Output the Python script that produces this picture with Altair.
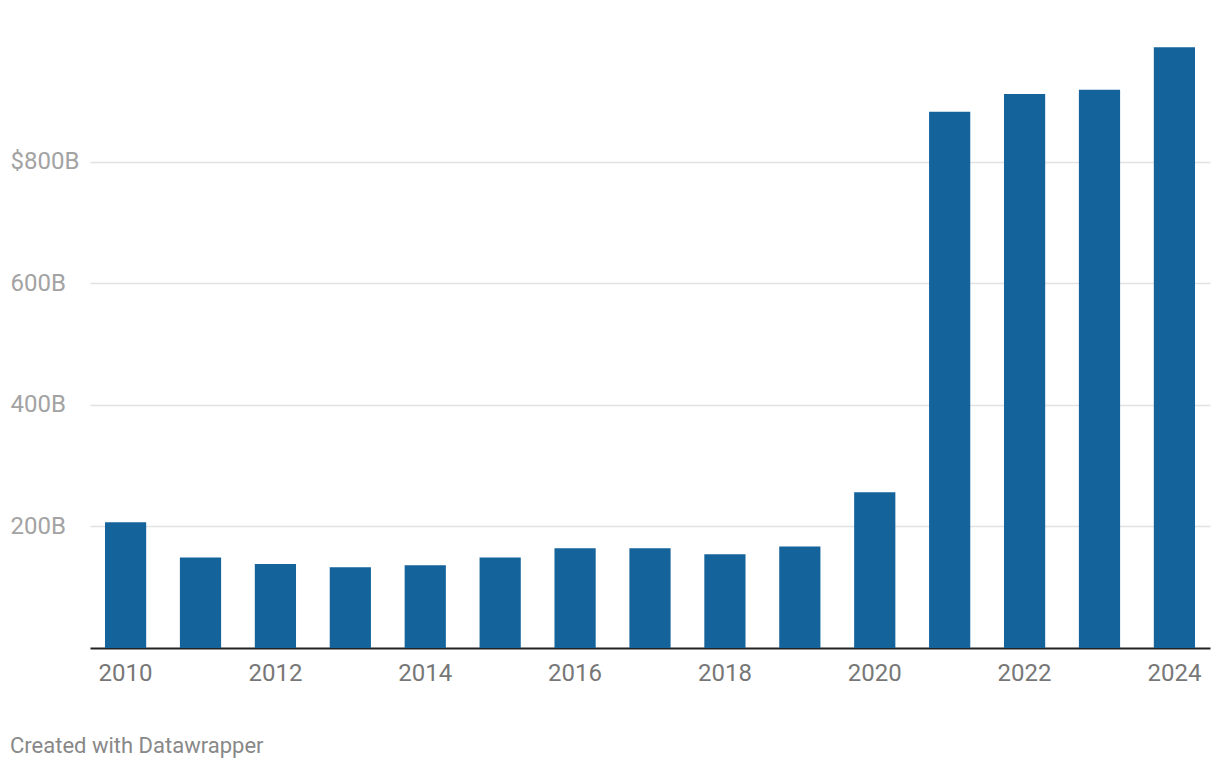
import altair as alt
import pandas as pd

years = list(range(2010, 2025))
values = [207, 149, 138, 133, 136, 149, 164, 164, 154, 167, 256, 882, 911, 918, 988]
y_ticks = [200, 400, 600, 800]
x_ticks = [2010, 2012, 2014, 2016, 2018, 2020, 2022, 2024]
footer = "Created with Datawrapper"

df = pd.DataFrame({"year": years, "value": values})

bars = alt.Chart(df).mark_bar(color="#15639b").encode(
    x=alt.X("year:O",
            scale=alt.Scale(paddingInner=0.45, paddingOuter=0.2),
            axis=alt.Axis(values=x_ticks, title=None, labelAngle=0,
                          labelFont="Roboto", labelFontSize=24, labelColor="#777777",
                          labelPadding=13, ticks=False, domainColor="#222222",
                          domainWidth=2, grid=False)),
    y=alt.Y("value:Q",
            scale=alt.Scale(domain=[0, 1000], nice=False),
            axis=alt.Axis(values=y_ticks, title=None, orient="left",
                          labelAlign="left", labelPadding=80, ticks=False,
                          domain=False, grid=True, gridColor="#e2e2e2", gridWidth=1.5,
                          labelFont="Roboto", labelFontSize=24, labelColor="#a3a3a3",
                          labelExpr="datum.value == 800 ? '$800B' : datum.value + 'B'")),
)

foot = alt.Chart(pd.DataFrame({"t": [footer]})).mark_text(
    align="left", baseline="middle", font="Roboto", fontSize=22, color="#888888"
).encode(text="t:N", x=alt.value(-80), y=alt.value(706))

chart = alt.layer(bars, foot).properties(
    width=1120, height=608,
    autosize=alt.AutoSizeParams(type="none"),
    padding={"left": 82, "top": 32, "right": 2, "bottom": 110},
).configure_view(stroke=None)

chart.save("out.html", embed_options={"renderer": "svg", "actions": False})
